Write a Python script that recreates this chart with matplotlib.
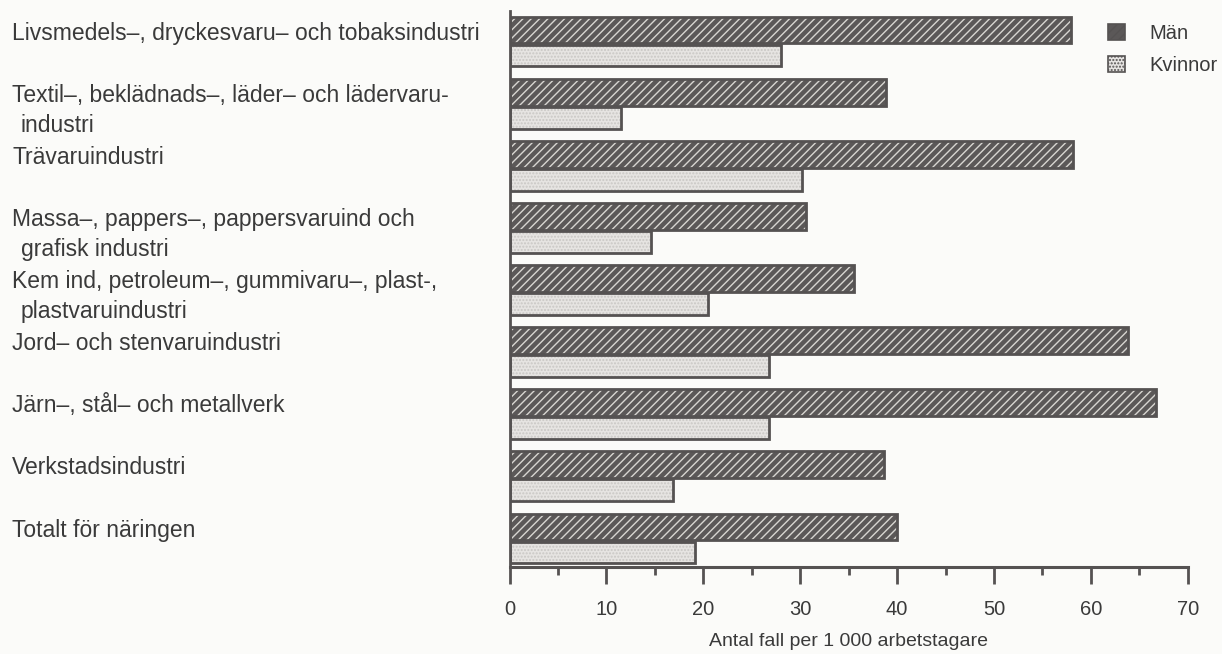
import matplotlib
matplotlib.use("Agg")
import matplotlib.pyplot as plt
import matplotlib.transforms as mtransforms
from matplotlib.patches import Patch
import numpy as np

# data (cases per 1 000 employees)
branscher = [
    "Livsmedels–, dryckesvaru– och tobaksindustri",
    "Textil–, beklädnads–, läder– och lädervaru-\nindustri",
    "Trävaruindustri",
    "Massa–, pappers–, pappersvaruind och\ngrafisk industri",
    "Kem ind, petroleum–, gummivaru–, plast-,\nplastvaruindustri",
    "Jord– och stenvaruindustri",
    "Järn–, stål– och metallverk",
    "Verkstadsindustri",
    "Totalt för näringen",
]
man = [57.9, 38.9, 58.2, 30.6, 35.6, 63.8, 66.7, 38.6, 40.0]
kvinnor = [28.0, 11.5, 30.2, 14.6, 20.5, 26.8, 26.8, 16.9, 19.1]
xticks = [0, 10, 20, 30, 40, 50, 60, 70]

plt.rcParams['font.family'] = ['Liberation Sans', 'DejaVu Sans']
plt.rcParams['hatch.linewidth'] = 1.0
textcol = '#3a3a3a'
dark = '#5b5858'
light = '#e6e4e2'
edge = '#555252'

fig = plt.figure(figsize=(12.22, 6.54), dpi=100)
fig.patch.set_facecolor('#fbfbf9')
ax = fig.add_axes([0.417, 0.133, 0.555, 0.85])
ax.set_facecolor('none')

y = np.arange(len(branscher))
h_man = 0.43
h_kv = 0.35
y_man = y + 0.09
y_kv = y_man + h_man + 0.02

# men: dark fill with light diagonal hatch, then dark outline
ax.barh(y_man, man, height=h_man, align='edge', color=dark,
        edgecolor='#d8d6d2', hatch='////', linewidth=0)
ax.barh(y_man, man, height=h_man, align='edge', fill=False,
        edgecolor=edge, linewidth=2)
# women: light dotted fill with dark outline
ax.barh(y_kv, kvinnor, height=h_kv, align='edge', color=light,
        edgecolor='#c9c7c4', hatch='.....', linewidth=0)
ax.barh(y_kv, kvinnor, height=h_kv, align='edge', fill=False,
        edgecolor=edge, linewidth=2)

ax.set_xlim(0, 70)
ax.set_ylim(len(branscher) - 0.05, 0)

for s in ['top', 'right']:
    ax.spines[s].set_visible(False)
ax.spines['left'].set_color(edge)
ax.spines['left'].set_linewidth(2)
ax.spines['bottom'].set_color(edge)
ax.spines['bottom'].set_linewidth(2.2)

ax.set_yticks([])
ax.set_xticks(xticks)
ax.set_xticks(np.arange(5, 70, 10), minor=True)
ax.tick_params(axis='x', which='major', length=12, width=2, color=edge,
               labelsize=14.5, labelcolor=textcol, pad=12)
ax.tick_params(axis='x', which='minor', length=6, width=2, color=edge)
ax.set_xlabel("Antal fall per 1 000 arbetstagare", fontsize=14,
              color=textcol, labelpad=10)

# category labels, one text per line so the first line sits on the men bar
trans = mtransforms.blended_transform_factory(fig.transFigure, ax.transData)
for i, lab in enumerate(branscher):
    for j, line in enumerate(lab.split("\n")):
        ax.text(0.010 + 0.007 * (j > 0),
                y_man[i] + h_man / 2 + 0.05 + 0.48 * j,
                line, transform=trans, ha='left', va='center',
                fontsize=16.5, color=textcol, clip_on=False)

handles = [
    Patch(facecolor=dark, edgecolor=edge, hatch='////', linewidth=1.2),
    Patch(facecolor=light, edgecolor=edge, hatch='.....', linewidth=1.2),
]
leg = ax.legend(handles, ["Män", "Kvinnor"], loc='upper right',
                bbox_to_anchor=(1.07, 1.01), frameon=False, fontsize=14.5,
                handlelength=0.85, handleheight=0.85, handletextpad=1.2,
                labelspacing=0.65, labelcolor=textcol)

fig.savefig("out.png", dpi=100, facecolor=fig.get_facecolor())
